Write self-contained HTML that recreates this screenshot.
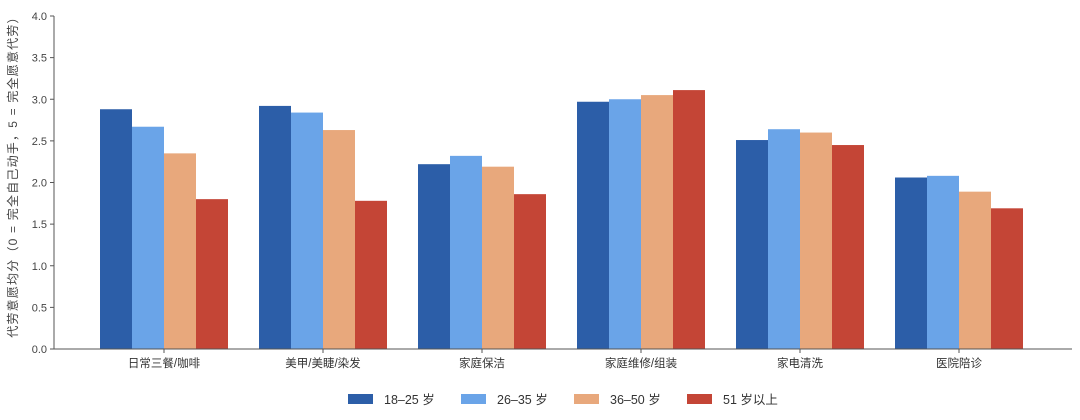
<!DOCTYPE html>
<html><head><meta charset="utf-8"><style>
body{margin:0;background:#fff;}
svg{display:block;font-family:"Liberation Sans","Noto Sans CJK SC",sans-serif;}
</style></head><body>
<svg id="chart" width="1080" height="420"></svg>
<script>
const categories=["日常三餐/咖啡","美甲/美睫/染发","家庭保洁","家庭维修/组装","家电清洗","医院陪诊"];
const seriesNames=["18–25 岁","26–35 岁","36–50 岁","51 岁以上"];
const s1=[2.88,2.92,2.22,2.97,2.51,2.06];
const s2=[2.67,2.84,2.32,3.00,2.64,2.08];
const s3=[2.35,2.63,2.19,3.05,2.60,1.89];
const s4=[1.80,1.78,1.86,3.11,2.45,1.69];
const yTicks=[0,0.5,1,1.5,2,2.5,3,3.5,4];
const colors=["#2c5ea8","#6aa4e8","#e8a87c","#c44536"];
const series=[s1,s2,s3,s4];
const NS="http://www.w3.org/2000/svg";
const svg=document.getElementById('chart');
const X0=54,X1=1072,Y0=349,Y1=16,YMAX=4;
const y=v=>Y0-(v/YMAX)*(Y0-Y1);
const gStart=164,gStep=159,bw=32;
const xc=i=>gStart+i*gStep;
function mk(t,a){const e=document.createElementNS(NS,t);for(const k in a)e.setAttribute(k,a[k]);svg.appendChild(e);return e;}
yTicks.forEach(v=>{
  const t=mk('line',{x1:X0-4,x2:X0,y1:y(v),y2:y(v),stroke:'#555'});
  
  
  const l=mk('text',{x:X0-7,y:y(v)+4,'text-anchor':'end','font-size':11,fill:'#444'});
  l.textContent=v.toFixed(1);
  
  
});
series.forEach((s,si)=>{
  s.forEach((v,i)=>{
    const r=mk('rect',{x:xc(i)-2*bw+si*bw,y:y(v),width:bw,height:Y0-y(v),fill:colors[si]});
    
    
  });
});
categories.forEach((c,i)=>{
  const t=mk('line',{x1:xc(i),x2:xc(i),y1:Y0,y2:Y0+4,stroke:'#555'});
  
  
  const l=mk('text',{x:xc(i),y:Y0+18,'text-anchor':'middle','font-size':11.5,fill:'#333'});
  l.textContent=c;
  
  
});
const ax=mk('line',{x1:X0,x2:X0,y1:Y1,y2:Y0,stroke:'#555'});


const bx=mk('line',{x1:X0,x2:X1,y1:Y0,y2:Y0,stroke:'#555'});


const yt=mk('text',{x:0,y:0,'text-anchor':'middle','font-size':12,'letter-spacing':1.2,fill:'#444',transform:'translate(17,174) rotate(-90)'});
yt.textContent='代劳意愿均分（0 = 完全自己动手，5 = 完全愿意代劳）';


const lx=[348,461,574,687];
seriesNames.forEach((n,i)=>{
  const r=mk('rect',{x:lx[i],y:394,width:25,height:10,fill:colors[i]});
  
  
  const t=mk('text',{x:lx[i]+36,y:404,'font-size':12.5,fill:'#333'});
  t.textContent=n;
  
  
});
</script>
</body></html>
